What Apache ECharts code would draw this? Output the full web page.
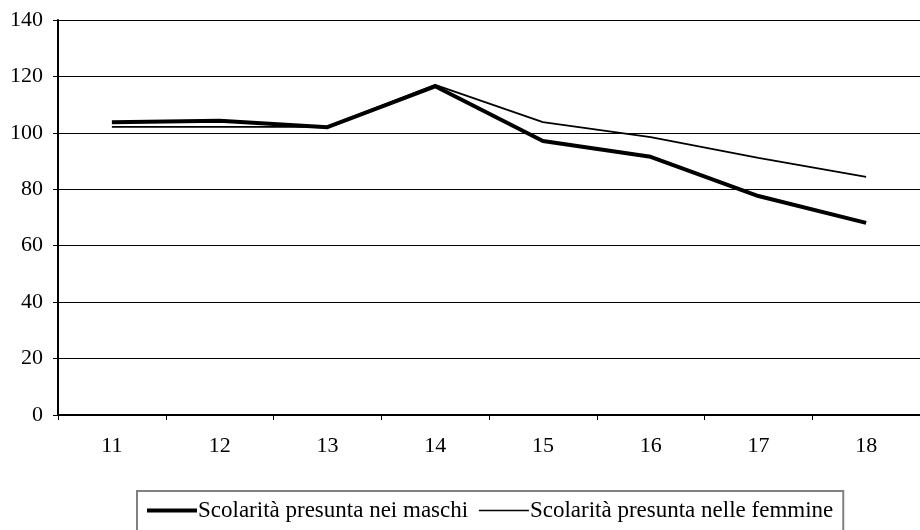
<!DOCTYPE html>
<html>
<head>
<meta charset="utf-8">
<script src="https://cdn.jsdelivr.net/npm/echarts@6/dist/echarts.min.js"></script>
<style>
  html, body { margin: 0; padding: 0; background: #fff; }
  #chart { width: 920px; height: 530px; }
</style>
</head>
<body>
<div id="chart"></div>
<script>
// categorie (età)
var categories = ['11', '12', '13', '14', '15', '16', '17', '18'];
// valori
var maschi = [103.8, 104.3, 102.0, 116.5, 97.1, 91.5, 77.6, 68.1];
var femmine = [102.1, 102.1, 102.1, 117.0, 103.8, 98.5, 91.1, 84.4];
var seriesNames = ['Scolarità presunta nei maschi', 'Scolarità presunta nelle femmine'];

var font = '"Liberation Serif", "Times New Roman", serif';

var myChart = echarts.init(document.getElementById('chart'));
var option = {
    animation: false,
    backgroundColor: '#fff',
    textStyle: { fontFamily: font },
    grid: { left: 58, right: 0, top: 20, bottom: 115 },
    legend: {
        left: 137,
        top: 491,
        padding: [8, 10, 14, 8],
        itemGap: 10,
        itemWidth: 50,
        itemHeight: 22,
        borderColor: '#808080',
        borderWidth: 2,
        textStyle: { fontFamily: font, fontSize: 23, color: '#000', padding: [0, 0, 0, -4] },
        data: [
            { name: seriesNames[0], lineStyle: { width: 4, color: '#000' }, itemStyle: { opacity: 0 } },
            { name: seriesNames[1], lineStyle: { width: 1.5, color: '#000' }, itemStyle: { opacity: 0 } }
        ]
    },
    xAxis: {
        type: 'category',
        data: categories,
        boundaryGap: true,
        axisLine: { lineStyle: { color: '#000', width: 2 } },
        axisTick: { show: true, length: 5, lineStyle: { color: '#000' } },
        axisLabel: { color: '#000', fontSize: 22, fontFamily: font, margin: 20 }
    },
    yAxis: {
        type: 'value',
        min: 0,
        max: 140,
        interval: 20,
        axisLine: { show: true, lineStyle: { color: '#000', width: 2 } },
        axisTick: { show: true, length: 5, lineStyle: { color: '#000' } },
        axisLabel: { color: '#000', fontSize: 22, fontFamily: font, margin: 15 },
        splitLine: { lineStyle: { color: '#000', width: 1 } }
    },
    series: [
        {
            name: seriesNames[0],
            type: 'line',
            data: maschi,
            symbol: 'none',
            lineStyle: { color: '#000', width: 4 },
            itemStyle: { color: '#000' }
        },
        {
            name: seriesNames[1],
            type: 'line',
            data: femmine,
            symbol: 'none',
            lineStyle: { color: '#000', width: 1.8 },
            itemStyle: { color: '#000' }
        }
    ]
};
myChart.setOption(option);
</script>
</body>
</html>
